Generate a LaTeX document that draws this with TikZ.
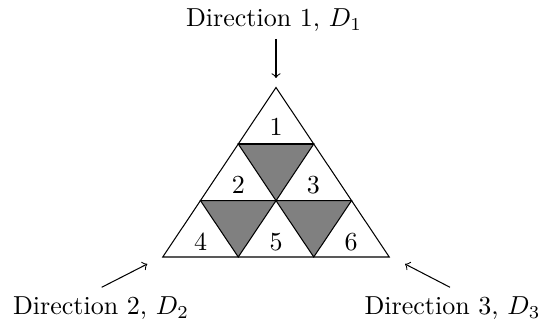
\documentclass[tikz,border=0pt]{standalone}
\begin{document}
\begin{tikzpicture}[x=0.3846pt,y=-0.3846pt,
  edge/.style={draw=black,line width=0.4pt},
  shade/.style={fill=gray,draw=black,line width=0.4pt},
  lbl/.style={inner sep=0pt,font=\normalsize},
  dirarrow/.style={->,line width=0.4pt}]
\useasboundingbox (0,0) rectangle (538,324);
% vertices
\coordinate (A) at (276,87.5);
\coordinate (L1) at (238.25,144);
\coordinate (R1) at (313.75,144);
\coordinate (L2) at (200.5,200.7);
\coordinate (M2) at (276,200.7);
\coordinate (R2) at (351.5,200.7);
\coordinate (B0) at (162.75,257);
\coordinate (B1) at (238.25,257);
\coordinate (B2) at (313.75,257);
\coordinate (B3) at (389.25,257);
% shaded
\path[shade] (L1) -- (R1) -- (M2) -- cycle;
\path[shade] (L2) -- (M2) -- (B1) -- cycle;
\path[shade] (M2) -- (R2) -- (B2) -- cycle;
% outline and grid
\draw[edge] (A) -- (B3) -- (B0) -- cycle;
\draw[edge] (L1) -- (R1);
\draw[edge] (L2) -- (R2);
% numbers
\node[lbl] (n1) at (276,126.7) {1};
\node[lbl] (n2) at (238.3,185) {2};
\node[lbl] (n3) at (313.3,185) {3};
\node[lbl] (n4) at (200.7,241.7) {4};
\node[lbl] (n5) at (276,241.7) {5};
\node[lbl] (n6) at (351,241.7) {6};
% direction labels
\node[lbl,anchor=base] (d1) at (274,27) {Direction 1, $D_1$};
\node[lbl,anchor=base] (d2) at (101,315) {Direction 2, $D_2$};
\node[lbl,anchor=base] (d3) at (452.5,315) {Direction 3, $D_3$};
% arrows
\coordinate (a1s) at (276,39);
\coordinate (a1e) at (276,78);
\coordinate (a2s) at (101.7,287.3);
\coordinate (a2e) at (147.3,264);
\coordinate (a3s) at (450,287.3);
\coordinate (a3e) at (405,264);
\draw[dirarrow] (a1s) -- (a1e);
\draw[dirarrow] (a2s) -- (a2e);
\draw[dirarrow] (a3s) -- (a3e);
\end{tikzpicture}
\end{document}
